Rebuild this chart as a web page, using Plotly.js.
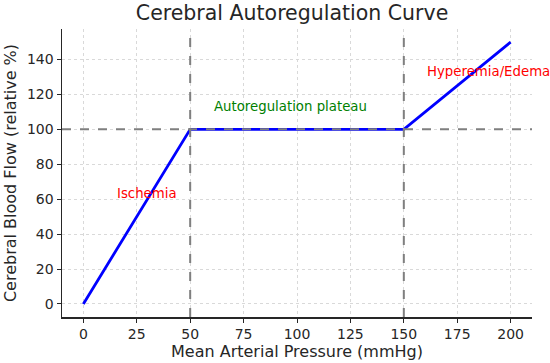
<!DOCTYPE html>
<html><head><meta charset="utf-8">
<script src="https://cdn.plot.ly/plotly-3.0.1.min.js"></script>
<style>body{margin:0;padding:0;}#chart{width:550px;height:363px;}</style>
</head><body><div id="chart"></div>
<script>
const pressure = [0, 50, 150, 200];
const bloodFlow = [0, 100, 100, 150];
const refX = [50, 150];
const refY = [100];
const xTicks = [0, 25, 50, 75, 100, 125, 150, 175, 200];
const yTicks = [0, 20, 40, 60, 80, 100, 120, 140];
const labels = ["Ischemia", "Autoregulation plateau", "Hyperemia/Edema"];
const labelX = [15, 60, 160];
const labelY = [60, 110, 130];
const labelColors = ["red", "green", "red"];

const font = "DejaVu Sans, sans-serif";
const shapes = [];
refX.forEach(v => shapes.push({type:'line', xref:'x', yref:'paper', x0:v, x1:v, y0:0, y1:1,
  line:{color:'#7f7f7f', width:2, dash:'dash'}}));
refY.forEach(v => shapes.push({type:'line', xref:'paper', yref:'y', x0:0, x1:1, y0:v, y1:v,
  line:{color:'#7f7f7f', width:2, dash:'dash'}}));

const annotations = labels.map((t, i) => ({x: labelX[i], y: labelY[i], text: t, showarrow:false,
  xanchor:'left', yanchor:'bottom', yshift:-4, font:{color: labelColors[i], size:13.3, family: font}}));

const data = [{x: pressure, y: bloodFlow, mode:'lines', line:{color:'blue', width:2.8}, hoverinfo:'skip'}];
const layout = {
  width:550, height:363, showlegend:false,
  margin:{l:62, r:18, t:29, b:46},
  paper_bgcolor:'white', plot_bgcolor:'white',
  font:{family:font, color:'#262626'},
  title:{text:'Cerebral Autoregulation Curve', x:0.531, xanchor:'center', y:0.964, yanchor:'middle', font:{size:20.5, family:font, color:'#262626'}},
  xaxis:{range:[-10,210], tickvals:xTicks, ticktext:xTicks.map(String), showgrid:true, gridcolor:'#d9d9d9', griddash:'dot', gridwidth:1,
    zeroline:false, showline:true, linecolor:'#262626', linewidth:1.5, ticks:'outside', ticklen:4, tickcolor:'#262626',
    tickfont:{size:14, family:font}, title:{text:'Mean Arterial Pressure (mmHg)', font:{size:16, family:font}, standoff:4}},
  yaxis:{range:[-7.5,157.5], tickvals:yTicks, ticktext:yTicks.map(String), showgrid:true, gridcolor:'#d9d9d9', griddash:'dot', gridwidth:1,
    zeroline:false, showline:true, linecolor:'#262626', linewidth:1.5, ticks:'outside', ticklen:4, tickcolor:'#262626',
    tickfont:{size:14, family:font}, title:{text:'Cerebral Blood Flow (relative %)', font:{size:16, family:font}, standoff:6}},
  shapes: shapes, annotations: annotations
};
Plotly.newPlot('chart', data, layout, {displayModeBar:false, staticPlot:true});
</script></body></html>
